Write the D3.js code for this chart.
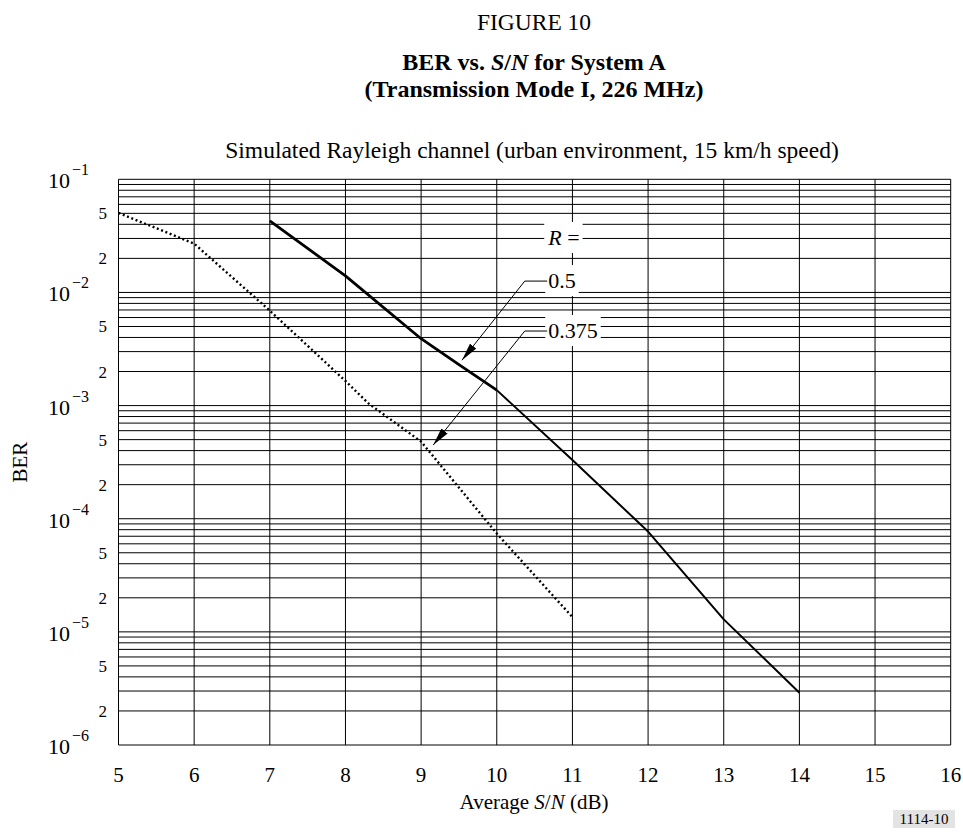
<!DOCTYPE html>
<html>
<head>
<meta charset="utf-8">
<script src="https://cdn.jsdelivr.net/npm/d3@7"></script>
<style>
  body { margin: 0; background: #fff; }
</style>
</head>
<body>
<div id="chart"></div>
<script>
// data
const xTicks = [5, 6, 7, 8, 9, 10, 11, 12, 13, 14, 15, 16];
const decades = [-1, -2, -3, -4, -5, -6];
const minorLabels = [5, 2];

const snrHalf = [7, 8, 9, 9.5, 10, 11, 12, 13, 14];
const berHalf = [4.3e-2, 1.4e-2, 3.9e-3, 2.3e-3, 1.37e-3, 3.3e-4, 7.7e-5, 1.29e-5, 2.9e-6];
const halfThickUntil = 10; // the curve is drawn heavier up to 10 dB

const snrThreeEighths = [5, 6, 7, 8, 8.3, 9, 10, 11];
const berThreeEighths = [5.05e-2, 2.7e-2, 6.9e-3, 1.65e-3, 1.05e-3, 4.8e-4, 7.4e-5, 1.35e-5];

const annoLabels = ["0.5", "0.375"];
const annoTip = [[9.54, 2.52e-3], [9.16, 4.48e-4]];
const annoElbow = [[10.37, 1.26e-2], [10.37, 4.56e-3]];
const annoTextX = 10.68;
const rLabelY = 3.03e-2;

const width = 963, height = 840;
const serif = '"Liberation Serif", "Times New Roman", Times, serif';

const svg = d3.select('#chart')
    .append('svg')
    .attr('width', width)
    .attr('height', height)
    .attr('font-family', serif);

svg.append('rect').attr('width', width).attr('height', height).attr('fill', '#fff');

const x = d3.scaleLinear().domain([5, 16]).range([118.5, 950.7]);
const y = d3.scaleLog().domain([1e-1, 1e-6]).range([179.3, 745]);

function txt(parent) {
    return parent.append('text').attr('font-family', serif).attr('fill', '#000');
}

// titles
txt(svg).attr('x', 534).attr('y', 30).attr('text-anchor', 'middle')
    .attr('font-size', 23.5).text('FIGURE 10');

const t2 = txt(svg).attr('x', 534).attr('y', 70).attr('text-anchor', 'middle')
    .attr('font-size', 24).attr('font-weight', 'bold');
t2.append('tspan').text('BER vs. ');
t2.append('tspan').attr('font-style', 'italic').text('S');
t2.append('tspan').text('/');
t2.append('tspan').attr('font-style', 'italic').text('N');
t2.append('tspan').text(' for System A');

txt(svg).attr('x', 534).attr('y', 97).attr('text-anchor', 'middle')
    .attr('font-size', 24).attr('font-weight', 'bold')
    .text('(Transmission Mode I, 226 MHz)');

txt(svg).attr('x', 532).attr('y', 158).attr('text-anchor', 'middle')
    .attr('font-size', 23.5)
    .text('Simulated Rayleigh channel (urban environment, 15 km/h speed)');

// grid
const grid = svg.append('g').attr('stroke', '#000').attr('stroke-width', 1);
const hVals = [];
decades.forEach(e => {
    if (e === -1) { hVals.push(1e-1); return; }
    for (let k = 1; k <= 9; k++) hVals.push(k * Math.pow(10, e));
});
hVals.forEach(v => {
    grid.append('line')
        .attr('x1', x(5)).attr('x2', x(16))
        .attr('y1', y(v)).attr('y2', y(v));
});
xTicks.forEach(t => {
    grid.append('line')
        .attr('x1', x(t)).attr('x2', x(t))
        .attr('y1', y(1e-1)).attr('y2', y(1e-6));
});

// x tick labels
xTicks.forEach(t => {
    txt(svg).attr('x', x(t)).attr('y', 782)
        .attr('text-anchor', 'middle').attr('font-size', 21)
        .text(t);
});

// y tick labels
decades.forEach(e => {
    txt(svg).attr('x', 70).attr('y', y(Math.pow(10, e)) + 9)
        .attr('text-anchor', 'end').attr('font-size', 22).text('10');
    txt(svg).attr('x', 72).attr('y', y(Math.pow(10, e)) - 4)
        .attr('font-size', 16).text('\u2212' + (-e));
    if (e > -6) {
        minorLabels.forEach(m => {
            txt(svg).attr('x', 107).attr('y', y(m * Math.pow(10, e - 1)) + 6)
                .attr('text-anchor', 'end').attr('font-size', 17).text(m);
        });
    }
});

// axis titles
txt(svg).attr('transform', `translate(27,${(y(1e-1) + y(1e-6)) / 2}) rotate(-90)`)
    .attr('text-anchor', 'middle').attr('font-size', 21).text('BER');

const xt = txt(svg).attr('x', 534).attr('y', 809).attr('text-anchor', 'middle')
    .attr('font-size', 21);
xt.append('tspan').text('Average ');
xt.append('tspan').attr('font-style', 'italic').text('S');
xt.append('tspan').text('/');
xt.append('tspan').attr('font-style', 'italic').text('N');
xt.append('tspan').text(' (dB)');

// figure number
svg.append('rect').attr('x', 893).attr('y', 810).attr('width', 62).attr('height', 18).attr('fill', '#e3e3e3');
txt(svg).attr('x', 924).attr('y', 824).attr('text-anchor', 'middle')
    .attr('font-size', 15).text('1114-10');

// curves
const line = d3.line().x(d => x(d[0])).y(d => y(d[1]));
svg.append('path')
    .datum(snrThreeEighths.map((s, i) => [s, berThreeEighths[i]]))
    .attr('fill', 'none').attr('stroke', '#000').attr('stroke-width', 2.4)
    .attr('stroke-dasharray', '2,2.6')
    .attr('d', line);

const halfPts = snrHalf.map((s, i) => [s, berHalf[i]]);
svg.append('path')
    .datum(halfPts.filter(d => d[0] <= halfThickUntil))
    .attr('fill', 'none').attr('stroke', '#000').attr('stroke-width', 2.8)
    .attr('stroke-linejoin', 'round')
    .attr('d', line);
svg.append('path')
    .datum(halfPts.filter(d => d[0] >= halfThickUntil))
    .attr('fill', 'none').attr('stroke', '#000').attr('stroke-width', 2)
    .attr('stroke-linejoin', 'round')
    .attr('d', line);

// annotations
const defs = svg.append('defs');
defs.append('marker').attr('id', 'arrow')
    .attr('viewBox', '0 0 18 8').attr('refX', 18).attr('refY', 4)
    .attr('markerWidth', 18).attr('markerHeight', 8)
    .attr('markerUnits', 'userSpaceOnUse').attr('orient', 'auto')
    .append('path').attr('d', 'M0,0 L18,4 L0,8 Z').attr('fill', '#000');

function labelBox(textSel) {
    const b = textSel.node().getBBox();
    svg.insert('rect', () => textSel.node())
        .attr('x', b.x - 3).attr('y', b.y - 3)
        .attr('width', b.width + 6).attr('height', b.height + 6)
        .attr('fill', '#fff');
}

const rText = txt(svg).attr('x', x(annoTextX)).attr('y', y(rLabelY) + 7)
    .attr('font-size', 22);
rText.append('tspan').attr('font-style', 'italic').text('R');
rText.append('tspan').text(' =');
labelBox(rText);

annoLabels.forEach((lab, i) => {
    const tx = x(annoTextX);
    const ty = y(annoElbow[i][1]);
    const t = txt(svg).attr('x', tx).attr('y', ty + 7).attr('font-size', 22).text(lab);
    labelBox(t);
    svg.append('path')
        .attr('fill', 'none').attr('stroke', '#000').attr('stroke-width', 1)
        .attr('marker-end', 'url(#arrow)')
        .attr('d', d3.line()([[tx - 1, ty], [x(annoElbow[i][0]), ty], [x(annoTip[i][0]), y(annoTip[i][1])]]));
});
</script>
</body>
</html>
